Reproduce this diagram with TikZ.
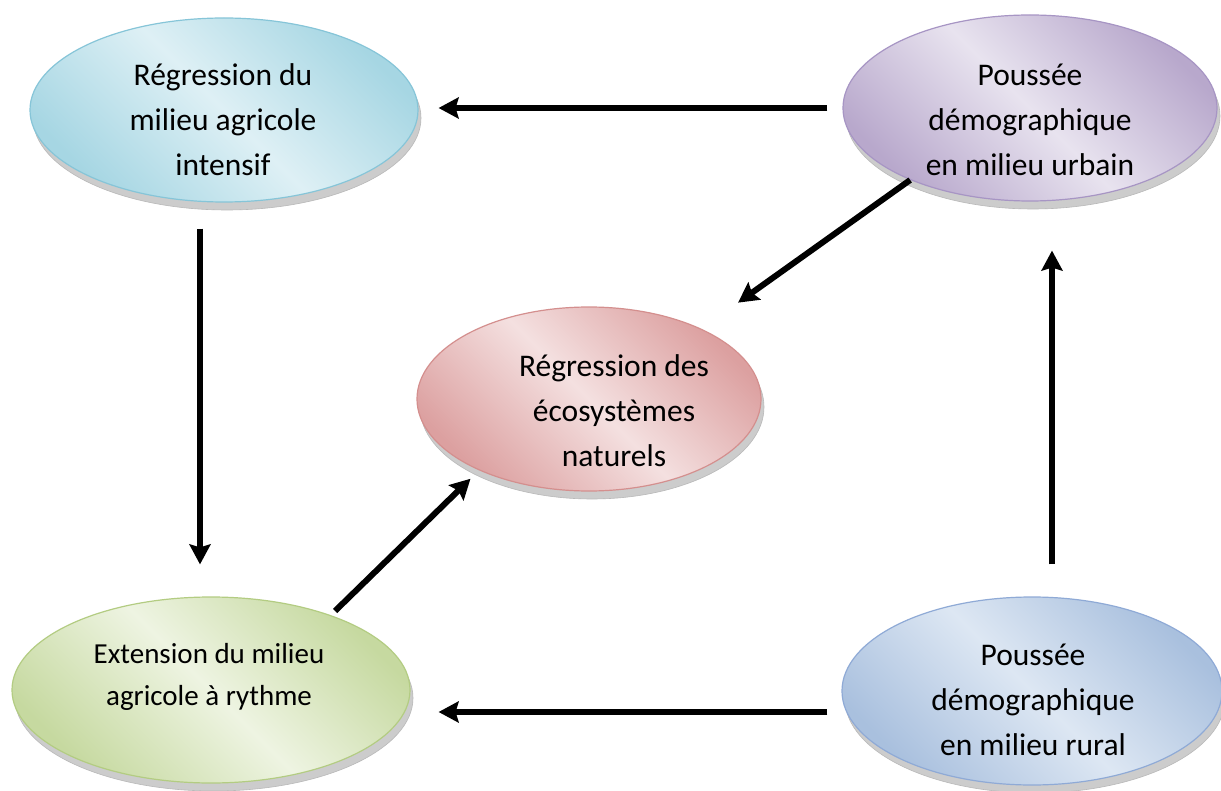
\documentclass[tikz,border=0pt]{standalone}
\usepackage{fontspec}
\setmainfont{Carlito}
\usetikzlibrary{shapes.geometric,arrows.meta}
\definecolor{bluelt}{HTML}{DEF0F5}
\definecolor{bluedk}{HTML}{A6D6E3}
\definecolor{bluebd}{HTML}{86C5D8}
\definecolor{redlt}{HTML}{F4E0E0}
\definecolor{reddk}{HTML}{DCA0A0}
\definecolor{redbd}{HTML}{D48F8E}
\definecolor{greenlt}{HTML}{EEF4E2}
\definecolor{greendk}{HTML}{C6D9A0}
\definecolor{greenbd}{HTML}{B3CC82}
\definecolor{purplt}{HTML}{E8E3EF}
\definecolor{purpdk}{HTML}{B8A8CC}
\definecolor{purpbd}{HTML}{A795C4}
\definecolor{rurlt}{HTML}{DDE7F3}
\definecolor{rurdk}{HTML}{A9C0DE}
\definecolor{rurbd}{HTML}{8FAAD6}
\tikzset{
  ell/.style={ellipse, inner sep=0pt, line width=1.2pt},
  shad/.style={ellipse, inner sep=0pt, fill=gray!40, draw=gray!55, line width=0.6pt},
  grad/.style n args={3}{draw=#3, top color=#2, bottom color=#2, middle color=#1, shading angle=-45},
  lbl/.style={align=center, font=\fontsize{31.5}{45}\selectfont, inner sep=0pt},
  lblsm/.style={align=center, font=\fontsize{29}{42}\selectfont, inner sep=0pt},
  arr/.style={line width=6pt, -{Stealth[length=20pt,width=21pt,inset=3pt]}}
}
\begin{document}
\begin{tikzpicture}[x=1pt,y=-1pt]
\useasboundingbox (0,0) rectangle (1221,791);
\fill[white] (0,0) rectangle (1221,791);
% shadows
\node[shad, minimum width=388pt, minimum height=184pt] (blueshadow) at (227,118) {};
\node[shad, minimum width=374pt, minimum height=186pt] (purpshadow) at (1033,116) {};
\node[shad, minimum width=344pt, minimum height=184pt] (redshadow) at (592,407) {};
\node[shad, minimum width=398pt, minimum height=186pt] (greenshadow) at (214,698) {};
\node[shad, minimum width=380pt, minimum height=188pt] (rurshadow) at (1035,699) {};
% ellipses
\node[ell, grad={bluelt}{bluedk}{bluebd}, minimum width=388pt, minimum height=184pt] (blue) at (224,110) {};
\node[ell, grad={purplt}{purpdk}{purpbd}, minimum width=374pt, minimum height=186pt] (purple) at (1030,108) {};
\node[ell, grad={redlt}{reddk}{redbd}, minimum width=344pt, minimum height=184pt] (red) at (589,399) {};
\node[ell, grad={greenlt}{greendk}{greenbd}, minimum width=398pt, minimum height=186pt] (green) at (211,690) {};
\node[ell, grad={rurlt}{rurdk}{rurbd}, minimum width=380pt, minimum height=188pt] (rural) at (1032,691) {};
% texts
\node[lbl] (bluetxt) at (223,122) {\strut Régression du\\\strut milieu agricole\\\strut intensif};
\node[lbl] (purptxt) at (1030,122) {\strut Poussée\\\strut démographique\\\strut en milieu urbain};
\node[lbl] (redtxt) at (614,412) {\strut Régression des\\\strut écosystèmes\\\strut naturels};
\node[lblsm] (greentxt) at (209,676) {\strut Extension du milieu\\\strut agricole à rythme};
\node[lbl] (rurtxt) at (1033,701) {\strut Poussée\\\strut démographique\\\strut en milieu rural};
% arrows
\draw[arr, shorten <=15pt, shorten >=20pt] (purple.west) -- (purple.west -| blue.east);
\draw[arr, shorten <=14pt, shorten >=28pt] ([yshift=-21pt]rural.west) -- ([yshift=-21pt]rural.west -| green.east);
\draw[arr, shorten <=26pt, shorten >=32pt] ([xshift=-24pt]blue.south) -- ([xshift=-24pt]blue.south |- green.north);
\draw[arr, shorten <=32pt, shorten >=49pt] ([xshift=20pt]rural.north) -- ([xshift=20pt]rural.north |- purple.south);
\draw[arr, shorten >=45pt] (purple.211) -- (red.32);
\draw[arr, shorten <=6pt, shorten >=12pt] (green.32) -- (red.213);
\end{tikzpicture}
\end{document}
